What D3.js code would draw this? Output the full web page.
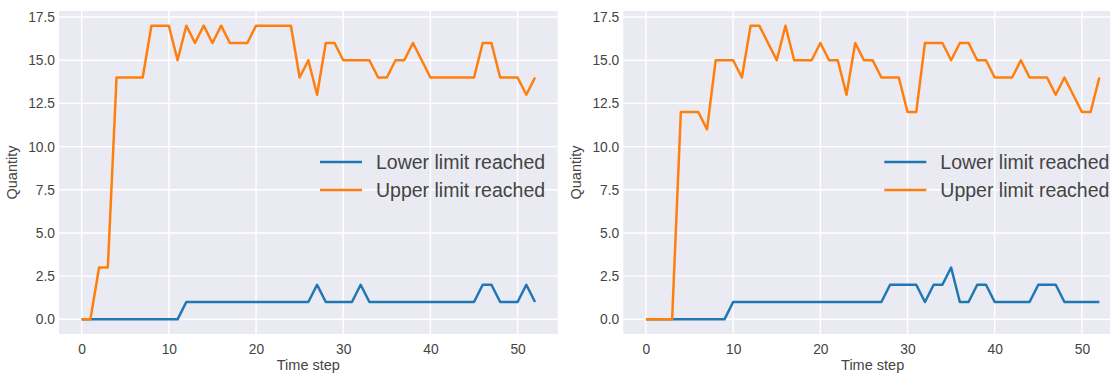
<!DOCTYPE html>
<html>
<head>
<meta charset="utf-8">
<script src="https://cdn.jsdelivr.net/npm/d3@7"></script>
<style>
  html, body { margin: 0; padding: 0; background: #ffffff; }
  svg { display: block; }
</style>
</head>
<body>
<svg id="chart" width="1110" height="377"></svg>
<script>
// ---- data ----
const timeSteps = d3.range(0, 53);
const leftLower = [0,0,0,0,0,0,0,0,0,0,0,0,1,1,1,1,1,1,1,1,1,1,1,1,1,1,1,2,1,1,1,1,2,1,1,1,1,1,1,1,1,1,1,1,1,1,2,2,1,1,1,2,1];
const leftUpper = [0,0,3,3,14,14,14,14,17,17,17,15,17,16,17,16,17,16,16,16,17,17,17,17,17,14,15,13,16,16,15,15,15,15,14,14,15,15,16,15,14,14,14,14,14,14,16,16,14,14,14,13,14];
const rightLower = [0,0,0,0,0,0,0,0,0,0,1,1,1,1,1,1,1,1,1,1,1,1,1,1,1,1,1,1,2,2,2,2,1,2,2,3,1,1,2,2,1,1,1,1,1,2,2,2,1,1,1,1,1];
const rightUpper = [0,0,0,0,12,12,12,11,15,15,15,14,17,17,16,15,17,15,15,15,16,15,15,13,16,15,15,14,14,14,12,12,16,16,16,15,16,16,15,15,14,14,14,15,14,14,14,13,14,13,12,12,14];
const xTicks = [0, 10, 20, 30, 40, 50];
const yTicks = [0, 2.5, 5, 7.5, 10, 12.5, 15, 17.5];
const seriesNames = ["Lower limit reached", "Upper limit reached"];
const seriesColors = ["#1f77b4", "#ff7f0e"];
const xLabel = "Time step";
const yLabel = "Quantity";

const panels = [
  { left: 59, series: [leftLower, leftUpper] },
  { left: 623.3, series: [rightLower, rightUpper] }
];

const svg = d3.select("#chart");
const plotTop = 11, plotBottom = 334, plotWidth = 498.7;
const font = "'Liberation Sans', Arial, sans-serif";
const textColor = "#444444";

panels.forEach((p, pi) => {
  const x = d3.scaleLinear().domain([-2.6, 54.6]).range([p.left, p.left + plotWidth]);
  const y = d3.scaleLinear().domain([-0.85, 17.85]).range([plotBottom, plotTop]);
  const g = svg.append("g");
  const clipId = "clip" + pi;
  svg.append("clipPath").attr("id", clipId).append("rect")
    .attr("x", p.left).attr("y", plotTop).attr("width", plotWidth).attr("height", plotBottom - plotTop);

  g.append("rect").attr("x", p.left).attr("y", plotTop).attr("width", plotWidth).attr("height", plotBottom - plotTop)
    .attr("fill", "#eaeaf2");

  // gridlines
  g.append("g").selectAll("line").data(yTicks).join("line")
    .attr("x1", p.left).attr("x2", p.left + plotWidth)
    .attr("y1", d => y(d)).attr("y2", d => y(d))
    .attr("stroke", "#ffffff").attr("stroke-width", 1.4);
  g.append("g").selectAll("line").data(xTicks).join("line")
    .attr("x1", d => x(d)).attr("x2", d => x(d))
    .attr("y1", plotTop).attr("y2", plotBottom)
    .attr("stroke", "#ffffff").attr("stroke-width", 1.4);

  // axes via d3
  const xAxis = d3.axisBottom(x).tickValues(xTicks).tickSize(0).tickPadding(10).tickFormat(d3.format("d"));
  const ax = g.append("g").attr("transform", `translate(0,${plotBottom})`).call(xAxis);
  ax.select(".domain").remove();
  ax.selectAll("text").attr("font-family", font).attr("font-size", 13.8).attr("fill", textColor);

  const yAxis = d3.axisLeft(y).tickValues(yTicks).tickSize(0).tickPadding(4).tickFormat(d3.format(".1f"));
  const ay = g.append("g").attr("transform", `translate(${p.left},0)`).call(yAxis);
  ay.select(".domain").remove();
  ay.selectAll("text").attr("font-family", font).attr("font-size", 13.8).attr("fill", textColor);

  // labels
  g.append("text").attr("x", p.left + plotWidth / 2).attr("y", 370)
    .attr("text-anchor", "middle").attr("font-family", font).attr("font-size", 14.5)
    .attr("fill", textColor).text(xLabel);
  g.append("text").attr("transform", `translate(${p.left - 47},${(plotTop + plotBottom) / 2}) rotate(-90)`)
    .attr("text-anchor", "middle").attr("dy", "0.35em").attr("font-family", font).attr("font-size", 14.5)
    .attr("fill", textColor).text(yLabel);

  // lines
  const line = d3.line().x((d, i) => x(timeSteps[i])).y(d => y(d));
  const lg = g.append("g").attr("clip-path", `url(#${clipId})`);
  p.series.forEach((s, si) => {
    lg.append("path").datum(s).attr("d", line).attr("fill", "none")
      .attr("stroke", seriesColors[si]).attr("stroke-width", 2.5)
      .attr("stroke-linejoin", "round").attr("stroke-linecap", "butt");
  });

  // legend
  const leg = g.append("g").attr("clip-path", `url(#${clipId})`);
  seriesNames.forEach((name, si) => {
    const ly = 162 + si * 28;
    leg.append("line").attr("x1", p.left + 261).attr("x2", p.left + 303)
      .attr("y1", ly).attr("y2", ly).attr("stroke", seriesColors[si]).attr("stroke-width", 2.5);
    leg.append("text").attr("x", p.left + 317).attr("y", ly).attr("dy", "0.36em")
      .attr("font-family", font).attr("font-size", 19.5).attr("fill", textColor).text(name);
  });
});
</script>
</body>
</html>
